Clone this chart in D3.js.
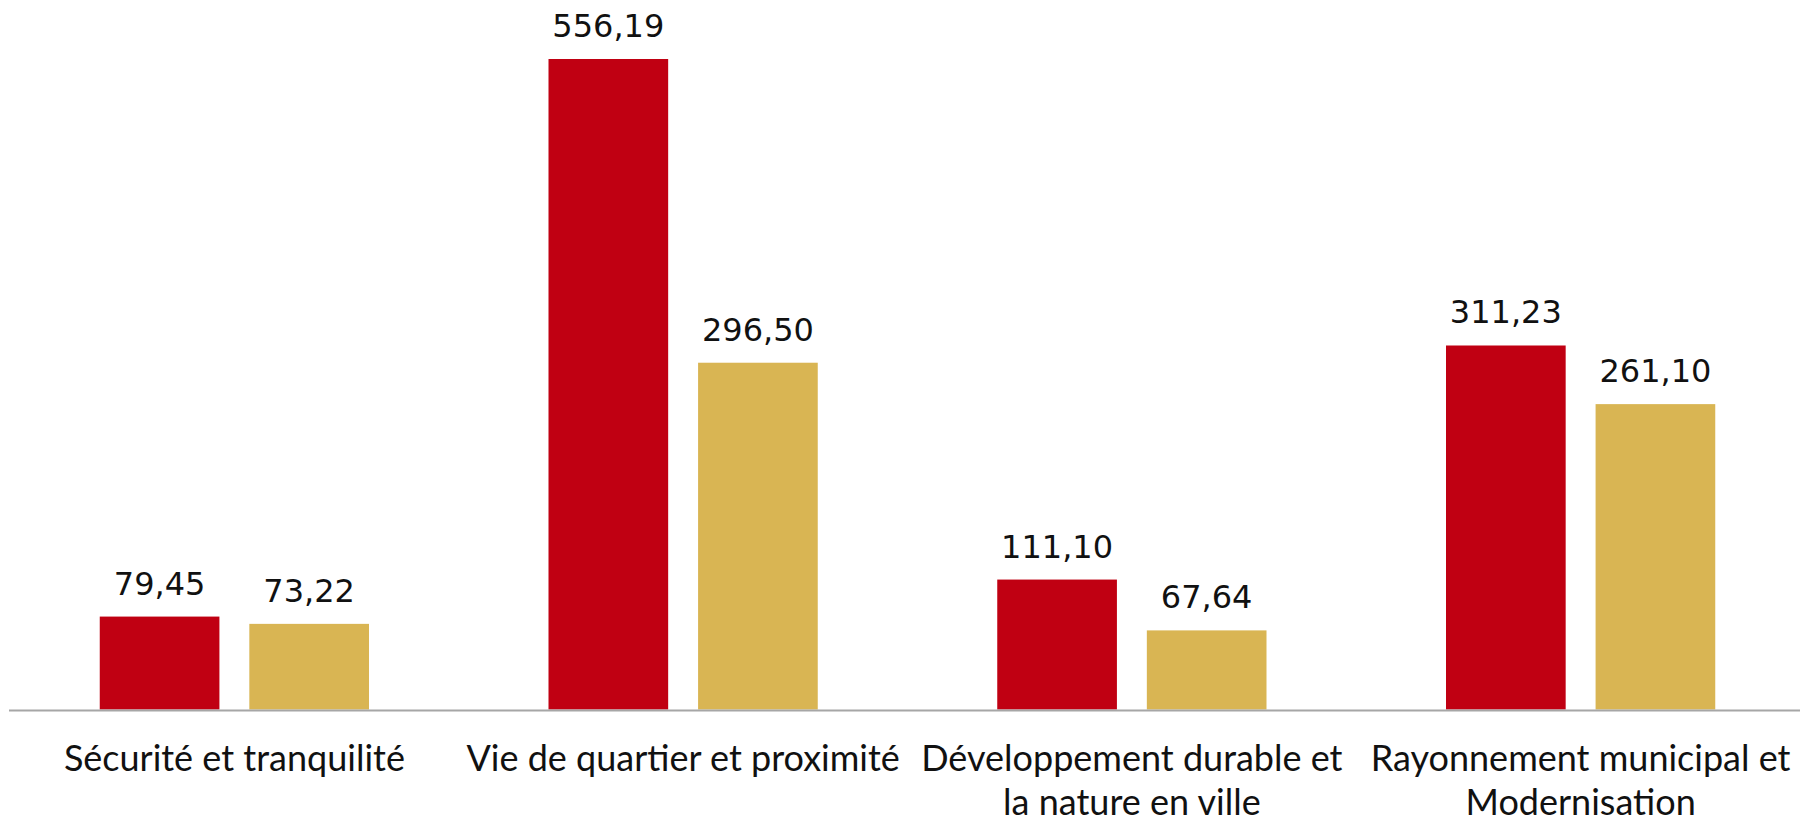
<!DOCTYPE html>
<html>
<head>
<meta charset="utf-8">
<script src="https://cdn.jsdelivr.net/npm/d3@7"></script>
<style>
  body { margin: 0; background: #fff; }
  svg { display: block; }
</style>
</head>
<body>
<svg id="chart" width="1800" height="821"></svg>
<script>
// categories (each split on two lines where the original wraps)
var categories = [
  ["Sécurité et tranquilité"],
  ["Vie de quartier et proximité"],
  ["Développement durable et", "la nature en ville"],
  ["Rayonnement municipal et", "Modernisation"]
];
var seriesA = [79.45, 556.19, 111.10, 311.23];
var seriesB = [73.22, 296.50, 67.64, 261.10];
var colors = ["#c00012", "#d9b553"];

var formatValue = d3.format(".2f");
function frNum(v) { return formatValue(v).replace(".", ","); }

var svg = d3.select("#chart"),
    baseline = 709.5;

var data = categories.map(function(c, i) {
  return { label: c, values: [seriesA[i], seriesB[i]] };
});

// group scale
var x0 = d3.scaleBand()
    .domain(d3.range(categories.length))
    .range([10, 1805])
    .paddingInner(0.4)
    .paddingOuter(0.2);

// bar scale inside a group
var x1 = d3.scaleBand()
    .domain([0, 1])
    .range([0, x0.bandwidth()])
    .paddingInner(0.2);

var y = d3.scaleLinear()
    .domain([0, 556.19])
    .range([baseline, 59]);

var groups = svg.selectAll("g.group")
    .data(data)
  .enter().append("g")
    .attr("class", "group")
    .attr("transform", function(d, i) { return "translate(" + x0(i) + ",0)"; });

groups.selectAll("rect")
    .data(function(d) { return d.values; })
  .enter().append("rect")
    .attr("x", function(d, j) { return x1(j); })
    .attr("y", function(d) { return y(d); })
    .attr("width", x1.bandwidth())
    .attr("height", function(d) { return baseline - y(d); })
    .attr("fill", function(d, j) { return colors[j]; });

// value labels
groups.selectAll("text.value")
    .data(function(d) { return d.values; })
  .enter().append("text")
    .attr("class", "value")
    .attr("x", function(d, j) { return x1(j) + x1.bandwidth() / 2; })
    .attr("y", function(d) { return y(d) - 22; })
    .attr("text-anchor", "middle")
    .attr("font-family", "DejaVu Sans")
    .attr("font-size", 32)
    .attr("fill", "#111")
    .text(function(d) { return frNum(d); });

// x axis line
svg.append("line")
    .attr("x1", 9)
    .attr("x2", 1800)
    .attr("y1", baseline + 1)
    .attr("y2", baseline + 1)
    .attr("stroke", "#a6a6a6")
    .attr("stroke-width", 2);

// category labels
var cat = groups.append("text")
    .attr("class", "cat")
    .attr("text-anchor", "middle")
    .attr("font-family", "Lato")
    .attr("font-size", 36)
    .attr("fill", "#111")
    .attr("transform", "translate(" + (x0.bandwidth() / 2) + ",0)");

cat.selectAll("tspan")
    .data(function(d) { return d.label; })
  .enter().append("tspan")
    .attr("x", 0)
    .attr("y", function(d, k) { return 771 + k * 44; })
    .text(function(d) { return d; });
</script>
</body>
</html>
